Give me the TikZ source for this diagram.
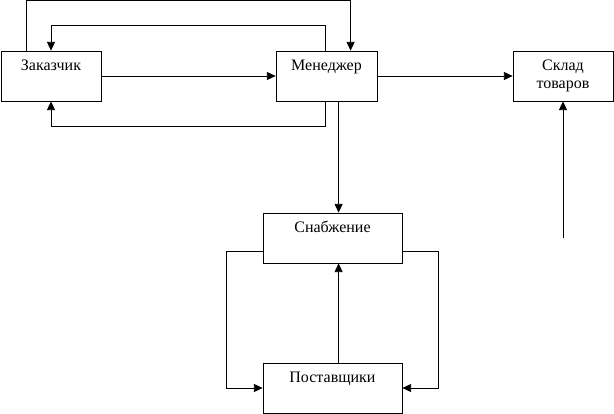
\documentclass[tikz,border=0pt]{standalone}
\usepackage{fontspec}
\setmainfont{Liberation Serif}
\usepackage{tikz}
\usetikzlibrary{arrows.meta, positioning, calc}

\newcommand{\boxtext}[2]{\parbox[c][37.5pt][t]{#1}{\centering\vspace*{5pt}\strut #2}}

\begin{document}
\begin{tikzpicture}[x=0.75pt, y=-0.75pt, line width=0.6pt,
    font=\fontsize{12pt}{13.5pt}\selectfont,
    unit/.style={draw, rectangle, inner sep=0pt, minimum height=37.5pt},
    arr/.style={-{Triangle[length=6.5pt, width=6pt]}}]
      \useasboundingbox (0, 0) rectangle (614, 414);

      \node[unit, minimum width=75pt] (zak) at (51, 76) {\boxtext{75pt}{Заказчик}};
      \node[unit, minimum width=75.75pt] (men) at (326.5, 76) {\boxtext{75.75pt}{Менеджер}};
      \node[unit, minimum width=75pt] (sklad) at (563, 76) {\boxtext{75pt}{Склад\\товаров}};
      \node[unit, minimum width=104.25pt] (snab) at (332.5, 238) {\boxtext{104.25pt}{Снабжение}};
      \node[unit, minimum width=104.25pt] (post) at (332.5, 388) {\boxtext{104.25pt}{Поставщики}};

      \draw[arr] (zak.north west) ++(26, 0) -- ++(0, -50) -| ($(men.north west) + (75, 0)$);
      \draw[arr] ($(men.north west) + (50, 0)$) -- ++(0, -25) -| (zak.north);
      \draw[arr] ($(men.south west) + (50, 0)$) -- ++(0, 25) -| (zak.south);
      \draw[arr] (zak.east) -- (men.west);
      \draw[arr] (men.east) -- (sklad.west);

      \draw[arr] ($(men.south west) + (63, 0)$) coordinate (m) -- (m |- snab.north);
      \draw[arr] (post.north -| m) -- (snab.south -| m);

      \coordinate (feed) at (563, 238);
      \draw[arr] (feed) -- (sklad.south);

      \draw[arr] ($(snab.south west) + (0, -12)$) -- ++(-36, 0) |- (post.west);
      \draw[arr] ($(snab.south east) + (0, -12)$) -- ++(36, 0) |- (post.east);

    \end{tikzpicture}
\end{document}
